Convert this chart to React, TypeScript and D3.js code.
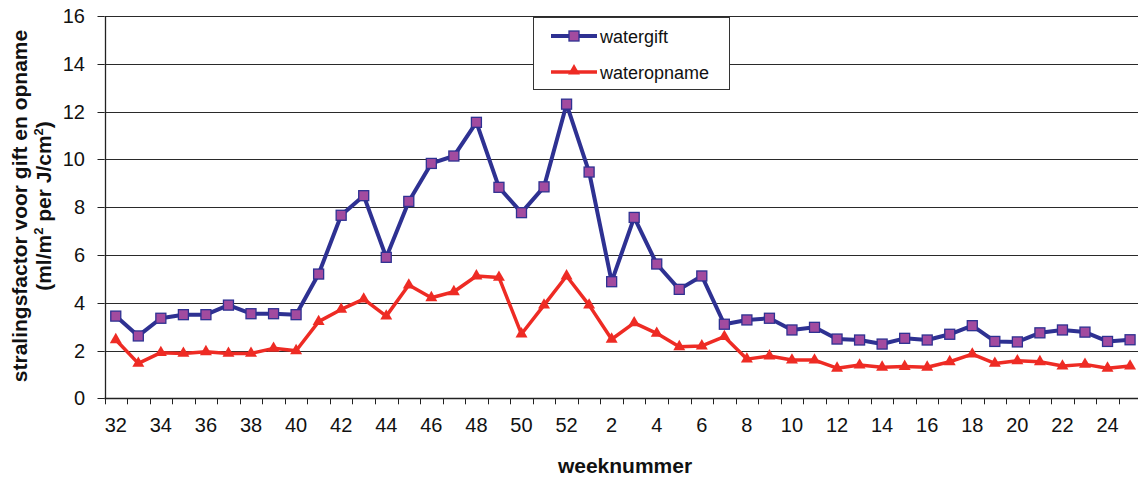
import React from "react";
import * as d3 from "d3";

const weeks = [
  "32","33","34","35","36","37","38","39","40","41","42","43","44","45","46","47","48","49","50","51","52",
  "1","2","3","4","5","6","7","8","9","10","11","12","13","14","15","16","17","18","19","20","21","22","23","24","25",
];

const watergift = [
  3.44, 2.61, 3.35, 3.5, 3.5, 3.9, 3.54, 3.54, 3.5, 5.2, 7.66, 8.48, 5.9, 8.24, 9.83, 10.14, 11.55, 8.83, 7.77, 8.85, 12.31,
  9.47, 4.88, 7.57, 5.62, 4.56, 5.12, 3.1, 3.28, 3.35, 2.86, 2.97, 2.48, 2.44, 2.27, 2.51, 2.44, 2.68, 3.04, 2.38, 2.36, 2.74, 2.86, 2.77, 2.38, 2.45,
];

const wateropname = [
  2.45, 1.46, 1.91, 1.88, 1.95, 1.88, 1.88, 2.09, 1.99, 3.21, 3.72, 4.15, 3.44, 4.74, 4.21, 4.46, 5.12, 5.06, 2.69, 3.9, 5.12,
  3.9, 2.47, 3.16, 2.72, 2.16, 2.19, 2.58, 1.64, 1.77, 1.6, 1.6, 1.26, 1.39, 1.3, 1.33, 1.3, 1.53, 1.85, 1.46, 1.57, 1.53, 1.35, 1.42, 1.26, 1.35,
];

const yTicks = [0, 2, 4, 6, 8, 10, 12, 14, 16];
const seriesNames = ["watergift", "wateropname"];

const W = 1138;
const H = 479;
const BLUE = "#2E3192";
const PURPLE = "#A24B9F";
const RED = "#EE2B24";
const FONT = "'Liberation Sans', Arial, sans-serif";

export default function App() {
  const left = 104.5;
  const bandW = 22.54;
  const x = d3.scaleBand<string>().domain(weeks).range([left, left + bandW * weeks.length]).padding(0);
  const y = d3.scaleLinear().domain([0, 16]).range([398.3, 16]);
  const cx = (w: string) => (x(w) as number) + x.bandwidth() / 2;

  const line = d3
    .line<number>()
    .x((_, i) => cx(weeks[i]))
    .y((d) => y(d));

  const tri = d3.symbol().type(d3.symbolTriangle).size(62)() as string;
  const legendTri = d3.symbol().type(d3.symbolTriangle).size(62)() as string;

  const px = (v: number) => Math.round(v) + 0.5;

  return (
    <svg width={W} height={H} style={{ position: "absolute", left: 0, top: 0, background: "#fff" }} fontFamily={FONT}>
      <rect x={0} y={0} width={W} height={H} fill="#fff" />
      {/* gridlines */}
      {yTicks.map((t) => (
        <line key={"g" + t} x1={left} x2={W} y1={px(y(t))} y2={px(y(t))} stroke="#2a2a2a" strokeWidth={1} />
      ))}
      {/* y axis */}
      <line x1={px(left)} x2={px(left)} y1={y(16)} y2={y(0) + 1} stroke="#222" strokeWidth={1.3} />
      {yTicks.map((t) => (
        <g key={"yt" + t}>
          <line x1={left - 7} x2={left} y1={px(y(t))} y2={px(y(t))} stroke="#222" strokeWidth={1} />
          <text x={85} y={y(t) + 7} fontSize={20} textAnchor="end" fill="#111">
            {t}
          </text>
        </g>
      ))}
      {/* x axis */}
      <line x1={left} x2={W} y1={px(y(0))} y2={px(y(0))} stroke="#222" strokeWidth={1.6} />
      {weeks.map((w) => (
        <line key={"xt" + w} x1={px(x(w) as number)} x2={px(x(w) as number)} y1={y(0)} y2={y(0) + 6} stroke="#222" strokeWidth={1} />
      ))}
      {weeks.map((w, i) =>
        i % 2 === 0 ? (
          <text key={"xl" + w} x={cx(w)} y={432} fontSize={20} textAnchor="middle" fill="#111">
            {w}
          </text>
        ) : null
      )}
      {/* axis titles */}
      <text x={625} y={473} fontSize={21} fontWeight="bold" textAnchor="middle" fill="#111">
        weeknummer
      </text>
      <g transform="translate(27,206) rotate(-90)">
        <text x={0} y={0} fontSize={21} fontWeight="bold" textAnchor="middle" fill="#111">
          stralingsfactor voor gift en opname
        </text>
        <text x={0} y={24} fontSize={21} fontWeight="bold" textAnchor="middle" fill="#111">
          (ml/m<tspan fontSize={13} dy={-8}>2</tspan>
          <tspan dy={8}> per J/cm</tspan>
          <tspan fontSize={13} dy={-8}>2</tspan>
          <tspan dy={8}>)</tspan>
        </text>
      </g>
      {/* series */}
      <path d={line(wateropname) as string} fill="none" stroke={RED} strokeWidth={3.5} strokeLinejoin="round" />
      {wateropname.map((v, i) => (
        <path key={"r" + i} d={tri} transform={`translate(${cx(weeks[i])},${y(v)})`} fill={RED} />
      ))}
      <path d={line(watergift) as string} fill="none" stroke={BLUE} strokeWidth={4} strokeLinejoin="round" />
      {watergift.map((v, i) => (
        <rect key={"b" + i} x={cx(weeks[i]) - 5} y={y(v) - 5} width={10} height={10} fill={PURPLE} stroke={BLUE} strokeWidth={1.3} />
      ))}
      {/* legend */}
      <rect x={533.5} y={17.5} width={196} height={72} fill="#fff" stroke="#333" strokeWidth={1} />
      <line x1={551} x2={597} y1={36} y2={36} stroke={BLUE} strokeWidth={4} />
      <rect x={569} y={31} width={10} height={10} fill={PURPLE} stroke={BLUE} strokeWidth={1.3} />
      <text x={600} y={42.5} fontSize={18} fill="#111">
        {seriesNames[0]}
      </text>
      <line x1={551} x2={597} y1={72} y2={72} stroke={RED} strokeWidth={3.5} />
      <path d={legendTri} transform="translate(574,71)" fill={RED} />
      <text x={600} y={78.5} fontSize={18} fill="#111">
        {seriesNames[1]}
      </text>
    </svg>
  );
}
